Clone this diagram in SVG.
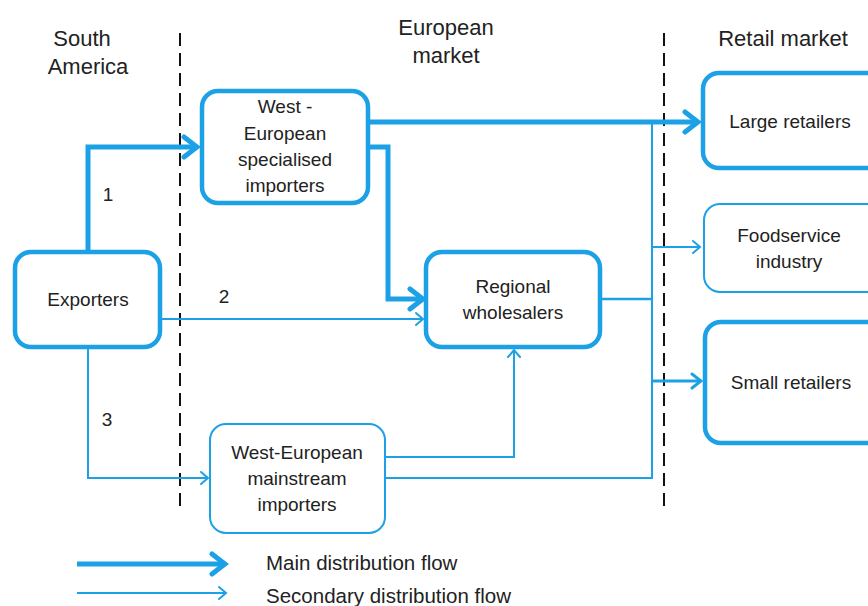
<svg xmlns="http://www.w3.org/2000/svg" width="868" height="606" viewBox="0 0 868 606">
<defs>
<style>
text{font-family:"Liberation Sans",Arial,sans-serif;font-size:19px;fill:#222;text-anchor:middle}
.hdr{font-size:22px}
.leg{font-size:20.5px;text-anchor:start}
.thick{fill:#fff;stroke:#1DA1E6;stroke-width:4.5}
.thin{fill:#fff;stroke:#1DA1E6;stroke-width:2}
.main{fill:none;stroke:#1DA1E6;stroke-width:5;stroke-linejoin:miter}
.sec{fill:none;stroke:#1DA1E6;stroke-width:2}
.med{fill:none;stroke:#1DA1E6;stroke-width:3}
.dash{stroke:#111;stroke-width:2;stroke-dasharray:13,7}
</style>
<marker id="ah" markerUnits="userSpaceOnUse" viewBox="-16 -14 20 28" markerWidth="20" markerHeight="28" refX="0" refY="0" orient="auto">
<path d="M-13,-10 L0,0 L-13,10" fill="none" stroke="#1DA1E6" stroke-width="5" stroke-linecap="round"/>
</marker>
<marker id="as" markerUnits="userSpaceOnUse" viewBox="-10 -8 12 16" markerWidth="12" markerHeight="16" refX="0" refY="0" orient="auto">
<path d="M-7,-6 L0,0 L-7,6" fill="none" stroke="#1DA1E6" stroke-width="2" stroke-linecap="round"/>
</marker>
<marker id="am" markerUnits="userSpaceOnUse" viewBox="-12 -10 14 20" markerWidth="14" markerHeight="20" refX="0" refY="0" orient="auto">
<path d="M-9,-7 L0,0 L-9,7" fill="none" stroke="#1DA1E6" stroke-width="3" stroke-linecap="round"/>
</marker>
</defs>
<rect width="868" height="606" fill="#fff"/>

<g id="headers">
<text class="hdr" x="82" y="46">South</text>
<text class="hdr" x="88" y="74">America</text>
<text class="hdr" x="446" y="35">European</text>
<text class="hdr" x="446" y="63">market</text>
<text class="hdr" x="783" y="46">Retail market</text>
</g>

<g id="dividers">
<line class="dash" x1="180" y1="33" x2="180" y2="510"/>
<line class="dash" x1="664" y1="33" x2="664" y2="512"/>
</g>

<g id="connectors">
<polyline class="main" points="88,251 88,147 197,147" marker-end="url(#ah)"/>
<line class="main" x1="368" y1="122" x2="698" y2="122" marker-end="url(#ah)"/>
<polyline class="main" points="368,147 388,147 388,299 423,299" marker-end="url(#ah)"/>
<line class="sec" x1="160" y1="319" x2="423" y2="319" marker-end="url(#as)"/>
<polyline class="sec" points="88,348 88,478 208,478" marker-end="url(#as)"/>
<polyline class="sec" points="385,457 514,457 514,350" marker-end="url(#as)"/>
<polyline class="sec" points="385,478 652,478 652,122"/>
<line class="sec" x1="600" y1="299" x2="652" y2="299" style="stroke-width:2.6"/>
<line class="sec" x1="652" y1="247" x2="700" y2="247" marker-end="url(#as)"/>
<line class="med" x1="652" y1="381" x2="701" y2="381" marker-end="url(#am)"/>
</g>

<g id="exporters">
<rect class="thick" x="15" y="252" width="145" height="95" rx="16"/>
<text x="88" y="306">Exporters</text>
</g>
<g id="specialised-importers">
<rect class="thick" x="202" y="91" width="166" height="112" rx="16"/>
<text x="285" y="113">West -</text>
<text x="285" y="140">European</text>
<text x="285" y="166">specialised</text>
<text x="285" y="192">importers</text>
</g>
<g id="regional-wholesalers">
<rect class="thick" x="426" y="252" width="174" height="95" rx="16"/>
<text x="513" y="293">Regional</text>
<text x="513" y="319">wholesalers</text>
</g>
<g id="mainstream-importers">
<rect class="thin" x="210" y="424" width="175" height="109" rx="16"/>
<text x="297" y="459">West-European</text>
<text x="297" y="485">mainstream</text>
<text x="297" y="511">importers</text>
</g>
<g id="large-retailers">
<rect class="thick" x="703" y="73" width="180" height="95" rx="16"/>
<text x="790" y="128">Large retailers</text>
</g>
<g id="foodservice">
<rect class="thin" x="704" y="204" width="180" height="88" rx="16"/>
<text x="789" y="242">Foodservice</text>
<text x="789" y="268">industry</text>
</g>
<g id="small-retailers">
<rect class="thick" x="705" y="322" width="180" height="121" rx="16"/>
<text x="791" y="389">Small retailers</text>
</g>

<g id="labels">
<text x="108" y="201">1</text>
<text x="224" y="303">2</text>
<text x="107" y="426">3</text>
</g>

<g id="legend">
<line class="main" x1="77" y1="564" x2="225" y2="564" marker-end="url(#ah)"/>
<line class="sec" x1="77" y1="593" x2="226" y2="593" marker-end="url(#as)"/>
<text class="leg" x="266" y="570">Main distribution flow</text>
<text class="leg" x="266" y="603">Secondary distribution flow</text>
</g>
</svg>
